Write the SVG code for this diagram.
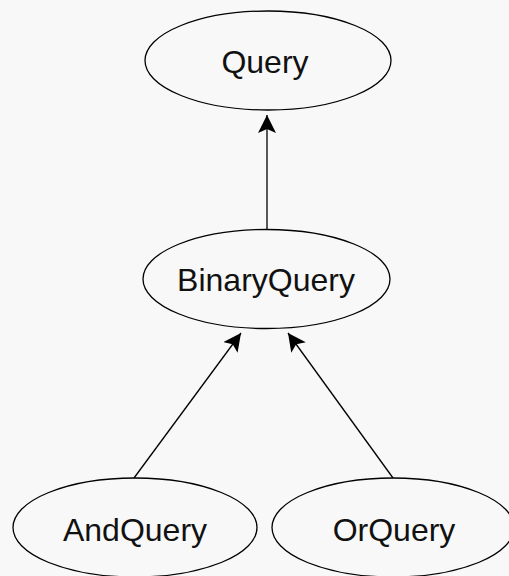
<svg xmlns="http://www.w3.org/2000/svg" width="509" height="576" viewBox="0 0 509 576">
  <style>
    .node ellipse { fill: none; stroke: #000; stroke-width: 1.3; }
    .node text { font-family: "Liberation Sans", Arial, sans-serif; font-size: 32px; fill: #111; text-anchor: middle; }
    .edge { stroke: #000; stroke-width: 1.3; fill: none; marker-end: url(#arrow); }
  </style>
  <defs>
    <marker id="arrow" viewBox="0 0 18 18" refX="18" refY="9" markerWidth="18" markerHeight="18" markerUnits="userSpaceOnUse" orient="auto">
      <path d="M0,0 L18,9 L0,18 L4,9 Z" fill="#000"/>
    </marker>
  </defs>
  <rect width="509" height="576" fill="#f8f8f8"/>
  <g id="connectors">
    <line class="edge" x1="267" y1="229" x2="267" y2="115"/>
    <line class="edge" x1="134" y1="478" x2="241" y2="333"/>
    <line class="edge" x1="393" y1="478" x2="288" y2="333"/>
  </g>
  <g id="Query" class="node">
    <ellipse cx="268" cy="60.5" rx="123" ry="49.5"/>
    <text x="265" y="73">Query</text>
  </g>
  <g id="BinaryQuery" class="node">
    <ellipse cx="266.5" cy="279" rx="123.5" ry="49.5"/>
    <text x="266" y="291">BinaryQuery</text>
  </g>
  <g id="AndQuery" class="node">
    <ellipse cx="135" cy="527.5" rx="122" ry="49.5"/>
    <text x="135" y="541">AndQuery</text>
  </g>
  <g id="OrQuery" class="node">
    <ellipse cx="393" cy="527.5" rx="121" ry="49.5"/>
    <text x="394" y="541">OrQuery</text>
  </g>
</svg>
